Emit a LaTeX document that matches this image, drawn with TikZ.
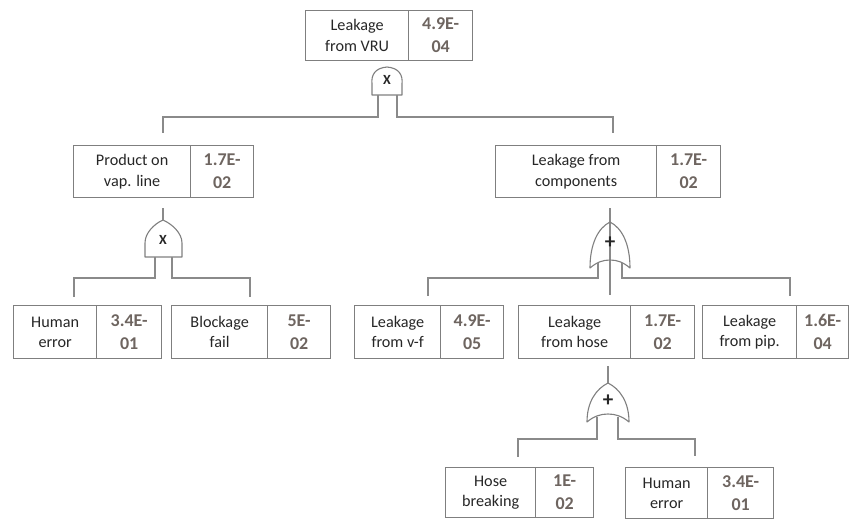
\documentclass[tikz,border=0pt]{standalone}
\usepackage{fontspec}
\setmainfont{Carlito}
\definecolor{edge}{HTML}{7F7F7F}
\definecolor{wire}{HTML}{8A8A8A}
\definecolor{txt}{HTML}{262626}
\definecolor{num}{HTML}{6E6560}
% event box: name, left x, divider x, right x, top y, bottom y, label, value
\newcommand\eventbox[8]{%
  \node[lab, minimum width={#3-#2}, minimum height={#6-#5}, anchor=north west] (#1) at (#2,#5) {#7};
  \node[val, minimum width={#4-#3}, minimum height={#6-#5}, anchor=north west] (#1v) at (#3,#5) {#8};
}
\begin{document}
\begin{tikzpicture}[x=1pt, y=-1pt,
  lab/.style={draw=edge, line width=1.3pt, rectangle, inner sep=0pt, align=center,
              text=txt, font=\fontsize{16.2}{20.5}\selectfont},
  val/.style={draw=edge, line width=1.3pt, rectangle, inner sep=0pt, align=center,
              text=num, font=\fontsize{18}{23}\selectfont\bfseries},
  wirestyle/.style={draw=wire, line width=1.3pt},
  gate/.style={draw=edge, line width=1.1pt, line join=round},
  andsym/.style={font=\fontsize{14}{14}\selectfont\bfseries, text=txt, inner sep=0pt},
  orsym/.style={font=\fontsize{21}{21}\selectfont\bfseries, text=txt, inner sep=0pt}]
\useasboundingbox (0,0) rectangle (849,520);

% events
\eventbox{top}{305}{408}{472}{10}{60}{Leakage\\from VRU}{4.9E-\\04}
\eventbox{prod}{73}{190}{253}{145}{197}{Product on\\vap. line}{1.7E-\\02}
\eventbox{comp}{495}{656}{720}{145}{197}{Leakage from\\components}{1.7E-\\02}
\eventbox{hum}{13}{96}{161}{305}{358}{Human\\error}{3.4E-\\01}
\eventbox{blk}{171}{267}{330}{305}{358}{Blockage\\fail}{5E-\\02}
\eventbox{vf}{354}{440}{503}{305}{358}{Leakage\\from v-f}{4.9E-\\05}
\eventbox{hose}{518}{630}{694}{305}{358}{Leakage\\from hose}{1.7E-\\02}
\eventbox{pip}{702}{796}{848}{305}{358}{Leakage\\from pip.}{1.6E-\\04}
\eventbox{hb}{445}{535}{593}{467}{517}{Hose\\breaking}{1E-\\02}
\eventbox{hum2}{625}{707}{773}{467}{518}{Human\\error}{3.4E-\\01}

% AND gate under the top event
\draw[gate] (372,95) -- (372,84) .. controls (371,75) and (375,68) .. (387,67)
  .. controls (399,68) and (403,75) .. (402,84) -- (402,95) -- cycle;
\node[andsym] (g1) at (387,80) {X};
\coordinate (g1l) at (378,95);
\coordinate (g1r) at (397,95);

% AND gate under "Product on vap. line"
\draw[gate] (145,257) -- (145,243) .. controls (145,233) and (154,224) .. (163,220)
  .. controls (172,224) and (182,233) .. (182,243) -- (182,257) -- cycle;
\node[andsym] (g2) at (163,240) {X};
\coordinate (g2t) at (163,220);
\coordinate (g2l) at (155,257);
\coordinate (g2r) at (172,257);

% OR gate under "Leakage from components", with the middle wire running through it
\coordinate (g3t) at (610,222);
\draw[wirestyle] ([yshift=-10pt]comp.south -| g3t) -- ([yshift=10pt]hose.north -| g3t);
\draw[gate] (610,222) .. controls (622,228) and (630,244) .. (630,268)
  .. controls (623,262) and (617,260) .. (610,260)
  .. controls (603,260) and (597,262) .. (590,268)
  .. controls (590,244) and (598,228) .. cycle;
\node[orsym] (g3) at (610,243) {+};
\coordinate (g3l) at (598,262.5);
\coordinate (g3r) at (622,262.5);

% OR gate under "Leakage from hose"
\draw[gate] (608,383) .. controls (620,389) and (629,402) .. (629,422)
  .. controls (622,416) and (615,414) .. (608,414)
  .. controls (601,414) and (594,416) .. (587,422)
  .. controls (587,402) and (596,389) .. cycle;
\node[orsym] (g4) at (608,401) {+};
\coordinate (g4t) at (608,383);
\coordinate (g4l) at (597,416.5);
\coordinate (g4r) at (618,416.5);

% connectors
\draw[wirestyle] (g1l) |- (163,117) -- ([yshift=12pt]prod.north -| 163,0);
\draw[wirestyle] (g1r) |- (613,117) -- ([yshift=12pt]comp.north -| 613,0);

\draw[wirestyle] ([yshift=-10pt]prod.south -| g2t) -- (g2t);
\draw[wirestyle] (g2l) |- (74,278) -- ([yshift=8pt]hum.north -| 74,0);
\draw[wirestyle] (g2r) |- (250,278) -- ([yshift=8pt]blk.north -| 250,0);

\draw[wirestyle] (g3l) |- (428,278) -- ([yshift=9pt]vf.north -| 428,0);
\draw[wirestyle] (g3r) |- (790,278) -- ([yshift=9pt]pip.north -| 790,0);

\draw[wirestyle] ([yshift=-7pt]hose.south -| g4t) -- (g4t);
\draw[wirestyle] (g4l) |- (518,439) -- ([yshift=10pt]hb.north -| 518,0);
\draw[wirestyle] (g4r) |- (695,439) -- ([yshift=11pt]hum2.north -| 695,0);
\end{tikzpicture}
\end{document}
